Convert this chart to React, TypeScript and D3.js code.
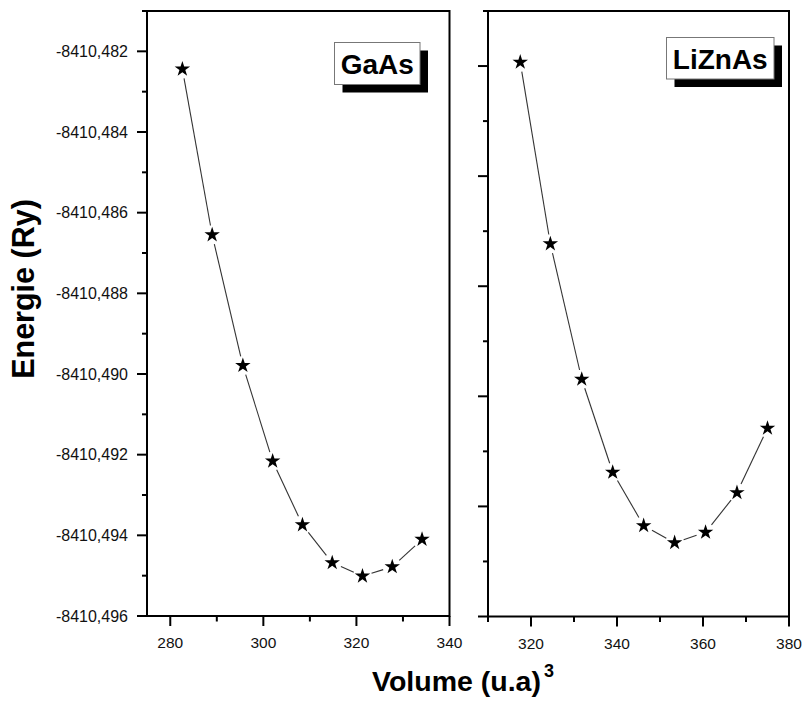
import React from "react";
import * as d3 from "d3";

// ---- Data ----
const gaasVolume = [282.6, 289.0, 295.6, 302.0, 308.4, 314.8, 321.3, 327.7, 334.1];
const gaasEnergy = [-8410.48244, -8410.48655, -8410.48979, -8410.49216, -8410.49374, -8410.49468, -8410.49501, -8410.49478, -8410.4941];
const liznasVolume = [317.5, 324.5, 331.8, 339.0, 346.2, 353.4, 360.6, 367.9, 375.0];
const liznasEnergy = [-8410.48593, -8410.48923, -8410.49169, -8410.49338, -8410.49435, -8410.49466, -8410.49447, -8410.49375, -8410.49258];

const leftYMajor = [-8410.496, -8410.494, -8410.492, -8410.49, -8410.488, -8410.486, -8410.484, -8410.482];
const leftYLabels = ["-8410,496", "-8410,494", "-8410,492", "-8410,490", "-8410,488", "-8410,486", "-8410,484", "-8410,482"];
const leftYMinor = [-8410.495, -8410.493, -8410.491, -8410.489, -8410.487, -8410.485, -8410.483, -8410.481];
const rightYMajor = [-8410.496, -8410.494, -8410.492, -8410.49, -8410.488, -8410.486];
const rightYMinor = [-8410.495, -8410.493, -8410.491, -8410.489, -8410.487, -8410.485];
const leftXMajor = [280, 300, 320, 340];
const leftXMinor = [290, 310, 330];
const rightXMajor = [320, 340, 360, 380];
const rightXMinor = [310, 330, 350, 370];

const FONT = "'Liberation Sans', Arial, Helvetica, sans-serif";

type PanelProps = {
  xs: number[];
  ys: number[];
  xDomain: [number, number];
  yDomain: [number, number];
  left: number;
  right: number;
  top: number;
  bottom: number;
  xMajor: number[];
  xMinor: number[];
  yMajor: number[];
  yMinor: number[];
  yLabels?: string[];
  label: string;
  boxX: number;
  boxY: number;
  boxW: number;
  boxH: number;
  textBaseline: number;
};

function Panel(p: PanelProps) {
  const x = d3.scaleLinear().domain(p.xDomain).range([p.left, p.right]);
  const y = d3.scaleLinear().domain(p.yDomain).range([p.bottom, p.top]);
  const pts = p.xs.map((v, i) => [x(v), y(p.ys[i])] as [number, number]);
  const star = d3.symbol().type(d3.symbolStar).size(74)();
  const gap = 9.5;
  const segs = pts.slice(0, -1).map((a, i) => {
    const b = pts[i + 1];
    const dx = b[0] - a[0];
    const dy = b[1] - a[1];
    const len = Math.hypot(dx, dy);
    const ux = dx / len;
    const uy = dy / len;
    return [a[0] + ux * gap, a[1] + uy * gap, b[0] - ux * gap, b[1] - uy * gap];
  });
  return (
    <g>
      <rect x={p.left} y={p.top} width={p.right - p.left} height={p.bottom - p.top} fill="none" stroke="#000" strokeWidth={2} />
      {p.yMajor.map((v, i) => (
        <g key={"ym" + i}>
          <line x1={p.left - 10} x2={p.left} y1={y(v)} y2={y(v)} stroke="#000" strokeWidth={2} />
          {p.yLabels && (
            <text x={p.left - 19} y={y(v) + 5.5} textAnchor="end" fontFamily={FONT} fontSize={16} fill="#111">
              {p.yLabels[i]}
            </text>
          )}
        </g>
      ))}
      {p.yMinor.map((v, i) => (
        <line key={"yn" + i} x1={p.left - 5} x2={p.left} y1={y(v)} y2={y(v)} stroke="#000" strokeWidth={2} />
      ))}
      {p.xMajor.map((v, i) => (
        <g key={"xm" + i}>
          <line x1={x(v)} x2={x(v)} y1={p.bottom} y2={p.bottom + 10} stroke="#000" strokeWidth={2} />
          <text x={x(v)} y={p.bottom + 32} textAnchor="middle" fontFamily={FONT} fontSize={15.5} fill="#111">
            {v}
          </text>
        </g>
      ))}
      {p.xMinor.map((v, i) => (
        <line key={"xn" + i} x1={x(v)} x2={x(v)} y1={p.bottom} y2={p.bottom + 5.5} stroke="#000" strokeWidth={2} />
      ))}
      {segs.map((s, i) => (
        <line key={"s" + i} x1={s[0]} y1={s[1]} x2={s[2]} y2={s[3]} stroke="#333" strokeWidth={1.1} />
      ))}
      {pts.map((pt, i) => (
        <path key={"p" + i} d={star || ""} transform={`translate(${pt[0]},${pt[1]})`} fill="#000" />
      ))}
      <rect x={p.boxX + 8} y={p.boxY + 8} width={p.boxW} height={p.boxH} fill="#000" />
      <rect x={p.boxX} y={p.boxY} width={p.boxW} height={p.boxH} fill="#fff" stroke="#777" strokeWidth={1} />
      <text x={p.boxX + p.boxW / 2} y={p.textBaseline} textAnchor="middle" fontFamily={FONT} fontWeight="bold" fontSize={28} fill="#000">
        {p.label}
      </text>
    </g>
  );
}

export default function App() {
  return (
    <svg width={805} height={702} style={{ position: "absolute", left: 0, top: 0, background: "#fff" }}>
      <rect x={0} y={0} width={805} height={702} fill="#fff" />
      <Panel
        xs={gaasVolume}
        ys={gaasEnergy}
        xDomain={[275, 340]}
        yDomain={[-8410.496, -8410.481]}
        left={147}
        right={449.5}
        top={11}
        bottom={616}
        xMajor={leftXMajor}
        xMinor={leftXMinor}
        yMajor={leftYMajor}
        yMinor={leftYMinor}
        yLabels={leftYLabels}
        label="GaAs"
        boxX={334.5}
        boxY={42.5}
        boxW={85.5}
        boxH={42}
        textBaseline={74}
      />
      <Panel
        xs={liznasVolume}
        ys={liznasEnergy}
        xDomain={[310, 380]}
        yDomain={[-8410.496, -8410.485]}
        left={488}
        right={789}
        top={11}
        bottom={616.5}
        xMajor={rightXMajor}
        xMinor={rightXMinor}
        yMajor={rightYMajor}
        yMinor={rightYMinor}
        label="LiZnAs"
        boxX={666.5}
        boxY={37.5}
        boxW={107.5}
        boxH={41.5}
        textBaseline={69}
      />
      <text
        transform="translate(34,289) rotate(-90)"
        textAnchor="middle"
        fontFamily={FONT}
        fontWeight="bold"
        fontSize={30.5}
        fill="#000"
      >
        Energie (Ry)
      </text>
      <text x={372} y={691} fontFamily={FONT} fontWeight="bold" fontSize={28.5} fill="#000">
        Volume (u.a)
        <tspan dx={3} dy={-14} fontSize={18}>3</tspan>
      </text>
    </svg>
  );
}
